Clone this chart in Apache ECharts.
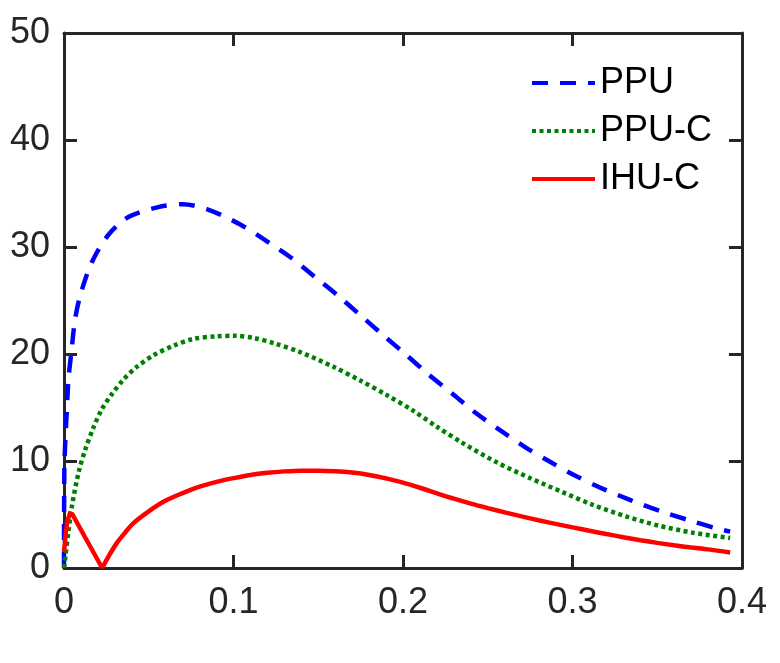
<!DOCTYPE html>
<html>
<head>
<meta charset="utf-8">
<script src="https://cdn.jsdelivr.net/npm/echarts@6/dist/echarts.min.js"></script>
<style>
  html, body { margin: 0; padding: 0; background: #fff; }
  #chart { width: 780px; height: 663px; }
</style>
</head>
<body>
<div id="chart"></div>
<script>
// PPU (blue dashed)
const ppuX = [0, 0.0002, 0.0008, 0.0017, 0.0026, 0.0045, 0.0067, 0.010, 0.0165, 0.026, 0.038, 0.055, 0.070, 0.085, 0.104, 0.120, 0.134, 0.148, 0.162, 0.175, 0.188, 0.202, 0.215, 0.229, 0.242, 0.257, 0.272, 0.287, 0.302, 0.318, 0.335, 0.352, 0.368, 0.385, 0.393]
const ppuY = [0, 9.2, 12.0, 14.8, 17.6, 20.4, 23.4, 25.7, 28.6, 31.1, 32.8, 33.7, 34.0, 33.5, 32.1, 30.5, 29.0, 27.2, 25.4, 23.6, 21.8, 19.9, 18.1, 16.3, 14.6, 12.9, 11.3, 9.9, 8.6, 7.4, 6.3, 5.3, 4.5, 3.7, 3.4]

// PPU-C (green dotted)
const ppucX = [0, 0.0008, 0.0026, 0.0047, 0.0085, 0.0124, 0.0173, 0.0222, 0.028, 0.035, 0.043, 0.053, 0.065, 0.076, 0.090, 0.101, 0.112, 0.124, 0.139, 0.159, 0.175, 0.190, 0.206, 0.220, 0.235, 0.255, 0.275, 0.294, 0.312, 0.332, 0.351, 0.371, 0.393]
const ppucY = [0, 1.0, 3.4, 5.8, 8.85, 11.0, 13.1, 14.8, 16.2, 17.6, 18.8, 19.9, 20.8, 21.4, 21.65, 21.7, 21.5, 21.0, 20.2, 18.8, 17.5, 16.2, 14.7, 13.2, 11.7, 9.9, 8.4, 7.1, 5.9, 4.8, 3.95, 3.3, 2.8]

// IHU-C (red solid), left spike up to the cusp
const ihucLeftX = [0, 0.001, 0.002, 0.0035, 0.005, 0.0225]
const ihucLeftY = [1.5, 3.2, 4.4, 5.1, 5.0, 0]
// IHU-C, from the cusp on
const ihucRightX = [0.0225, 0.026, 0.031, 0.036, 0.041, 0.050, 0.060, 0.070, 0.080, 0.090, 0.100, 0.110, 0.120, 0.130, 0.140, 0.150, 0.160, 0.170, 0.180, 0.190, 0.200, 0.210, 0.220, 0.230, 0.240, 0.250, 0.260, 0.270, 0.280, 0.290, 0.300, 0.310, 0.320, 0.330, 0.340, 0.350, 0.360, 0.370, 0.380, 0.393]
const ihucRightY = [0, 1.0, 2.3, 3.3, 4.2, 5.3, 6.3, 7.0, 7.6, 8.05, 8.4, 8.7, 8.9, 9.03, 9.1, 9.1, 9.05, 8.92, 8.7, 8.38, 7.98, 7.5, 6.98, 6.48, 6.02, 5.6, 5.2, 4.82, 4.46, 4.12, 3.8, 3.48, 3.17, 2.88, 2.6, 2.35, 2.12, 1.92, 1.74, 1.45]

const seriesNames = ['PPU', 'PPU-C', 'IHU-C']
const xTicks = [0, 0.1, 0.2, 0.3, 0.4]
const yTicks = [0, 10, 20, 30, 40, 50]

const pairs = (xs, ys) => xs.map((x, i) => [x, ys[i]])

const axisColor = '#262626'
const font = 'Liberation Sans, Arial, Helvetica, sans-serif'

const axisBase = (pos, showLabel, isX) => ({
  type: 'value',
  position: pos,
  min: 0,
  max: isX ? 0.4 : 50,
  interval: isX ? 0.1 : 10,
  axisLine: { show: true, onZero: false, lineStyle: { color: axisColor, width: 3 } },
  axisTick: { show: true, inside: true, length: 13, lineStyle: { color: axisColor, width: 3 } },
  splitLine: { show: false },
  axisLabel: {
    show: showLabel,
    color: axisColor,
    fontSize: 36,
    fontFamily: font,
    margin: isX ? 17 : 14,
    formatter: (v) => {
      const list = isX ? xTicks : yTicks
      const hit = list.find((t) => Math.abs(t - v) < 1e-9)
      return hit === undefined ? '' : String(hit)
    }
  }
})

const legendRow = (name, top) => ({
  data: [name],
  left: 530,
  top: top,
  itemWidth: 63,
  itemHeight: 20,
  itemGap: 8,
  padding: 0,
  itemStyle: { opacity: 0 },
  lineStyle: { width: 4 },
  textStyle: { color: '#000', fontSize: 36, fontFamily: font, padding: [0, 0, 0, 0] }
})

const lineCommon = {
  type: 'line',
  showSymbol: false,
  symbol: 'none'
}

const option = {
  animation: false,
  backgroundColor: '#fff',
  grid: { left: 64, right: 38, top: 33, bottom: 95 },
  legend: [
    legendRow(seriesNames[0], 65),
    legendRow(seriesNames[1], 113),
    legendRow(seriesNames[2], 161)
  ],
  xAxis: [axisBase('bottom', true, true), axisBase('top', false, true)],
  yAxis: [axisBase('left', true, false), axisBase('right', false, false)],
  series: [
    {
      ...lineCommon,
      name: seriesNames[0],
      data: pairs(ppuX, ppuY),
      smooth: 0.3,
      color: '#0000ff',
      lineStyle: { color: '#0000ff', width: 4.5, type: [16, 12] }
    },
    {
      ...lineCommon,
      name: seriesNames[1],
      data: pairs(ppucX, ppucY),
      smooth: 0.3,
      color: '#008000',
      lineStyle: { color: '#008000', width: 4.5, type: [4, 3.5] }
    },
    {
      ...lineCommon,
      name: seriesNames[2],
      data: pairs(ihucLeftX, ihucLeftY),
      smooth: false,
      color: '#ff0000',
      lineStyle: { color: '#ff0000', width: 4.5, type: 'solid', join: 'miter' }
    },
    {
      ...lineCommon,
      name: seriesNames[2],
      data: pairs(ihucRightX, ihucRightY),
      smooth: 0.3,
      color: '#ff0000',
      lineStyle: { color: '#ff0000', width: 4.5, type: 'solid' }
    }
  ]
}

const chart = echarts.init(document.getElementById('chart'))
chart.setOption(option)
</script>
</body>
</html>
